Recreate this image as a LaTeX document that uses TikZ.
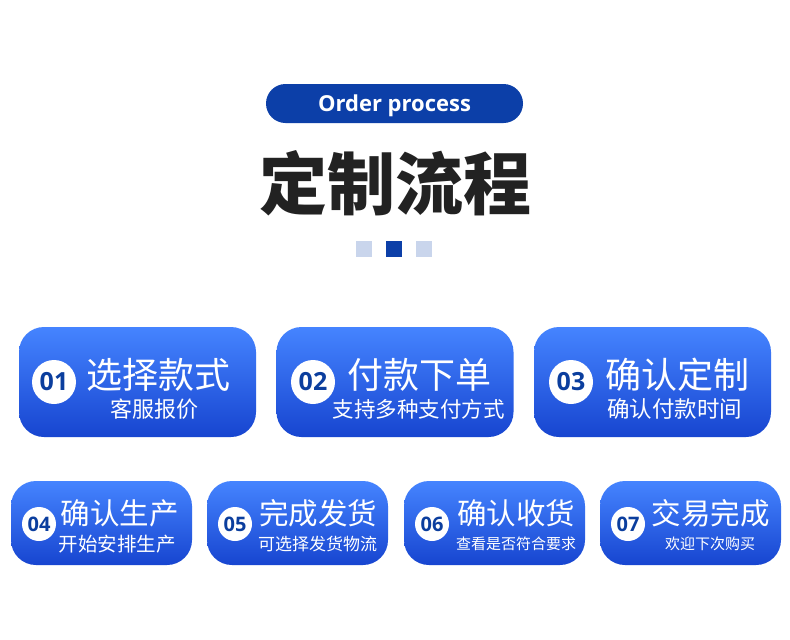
\documentclass[tikz,border=0pt]{standalone}
\usepackage{fontspec}
\newfontfamily\cjk{Noto Sans CJK SC}
\newfontfamily\latin{Open Sans}
\newfontfamily\digits{Open Sans}
\definecolor{deepblue}{HTML}{0C3FA8}
\definecolor{numblue}{HTML}{0B3E9E}
\definecolor{paleblue}{HTML}{C9D5EC}
\definecolor{boxtop}{HTML}{4584FF}
\definecolor{boxbot}{HTML}{1745D0}
\definecolor{titlegray}{HTML}{222222}
\tikzset{
  x=1pt,y=-1pt,
  stepcard/.style={rectangle, rounded corners=25pt, top color=boxtop, bottom color=boxbot, draw=none, inner sep=0pt},
  numdot/.style={circle, fill=white, draw=none, inner sep=0pt, minimum size=#1, text=numblue},
  maintext/.style={text=white, inner sep=0pt, font=\cjk\fontsize{#1}{#1}\selectfont},
  subtext/.style={text=white, inner sep=0pt, font=\cjk\fontsize{#1}{#1}\selectfont},
}
\begin{document}
\begin{tikzpicture}
\useasboundingbox (0,0) rectangle (790,640);
\fill[white] (0,0) rectangle (790,640);
% header pill
\node[rectangle, rounded corners=19.5pt, fill=deepblue, minimum width=257pt, minimum height=39pt, inner sep=0pt] (pill) at (394.5,103.5) {};
\node[text=white, inner sep=0pt, anchor=base, font=\latin\bfseries\fontsize{22}{22}\selectfont] (pilltext) at (394.5,111.5) {Order process};
\node[text=titlegray, inner sep=0pt, font=\cjk\bfseries\fontsize{68}{68}\selectfont] (title) at (395,183) {定制流程};
% squares
\node[fill=paleblue, minimum size=16pt, inner sep=0pt] (sq1) at (364,249) {};
\node[fill=deepblue, minimum size=16pt, inner sep=0pt] (sq2) at (394,249) {};
\node[fill=paleblue, minimum size=16pt, inner sep=0pt] (sq3) at (424,249) {};
% row 1
\node[stepcard, minimum width=237pt, minimum height=110pt] (b1) at (137.5,382) {};
\node[stepcard, minimum width=237pt, minimum height=110pt] (b2) at (395,382) {};
\node[stepcard, minimum width=237pt, minimum height=110pt] (b3) at (652.5,382) {};
\node[numdot=44pt, font=\digits\bfseries\fontsize{25}{25}\selectfont] (n1) at (54,382) {01};
\node[numdot=44pt, font=\digits\bfseries\fontsize{25}{25}\selectfont] (n2) at (313,382) {02};
\node[numdot=44pt, font=\digits\bfseries\fontsize{25}{25}\selectfont] (n3) at (571,382) {03};
\node[maintext=36] (m1) at (158,375) {选择款式};
\node[subtext=22] (s1) at (154.5,409) {客服报价};
\node[maintext=36] (m2) at (419.5,375) {付款下单};
\node[subtext=21.5] (s2) at (418.5,409) {支持多种支付方式};
\node[maintext=36] (m3) at (677.5,375) {确认定制};
\node[subtext=22.5] (s3) at (674.5,409) {确认付款时间};
% row 2
\node[stepcard, minimum width=181pt, minimum height=84pt] (b4) at (101.5,523) {};
\node[stepcard, minimum width=181pt, minimum height=84pt] (b5) at (297.5,523) {};
\node[stepcard, minimum width=181pt, minimum height=84pt] (b6) at (494.5,523) {};
\node[stepcard, minimum width=181pt, minimum height=84pt] (b7) at (690.5,523) {};
\node[numdot=34pt, font=\digits\bfseries\fontsize{20}{20}\selectfont] (n4) at (39,524) {04};
\node[numdot=34pt, font=\digits\bfseries\fontsize{20}{20}\selectfont] (n5) at (235,524) {05};
\node[numdot=34pt, font=\digits\bfseries\fontsize{20}{20}\selectfont] (n6) at (432,524) {06};
\node[numdot=34pt, font=\digits\bfseries\fontsize{20}{20}\selectfont] (n7) at (628,524) {07};
\node[maintext=29.5] (m4) at (119.5,513) {确认生产};
\node[subtext=19.5] (s4) at (117,544) {开始安排生产};
\node[maintext=29.5] (m5) at (318,513) {完成发货};
\node[subtext=17] (s5) at (317.5,544) {可选择发货物流};
\node[maintext=29.5] (m6) at (516,513) {确认收货};
\node[subtext=15] (s6) at (516,544) {查看是否符合要求};
\node[maintext=29.5] (m7) at (710.5,513) {交易完成};
\node[subtext=15] (s7) at (710,544) {欢迎下次购买};
\end{tikzpicture}
\end{document}
